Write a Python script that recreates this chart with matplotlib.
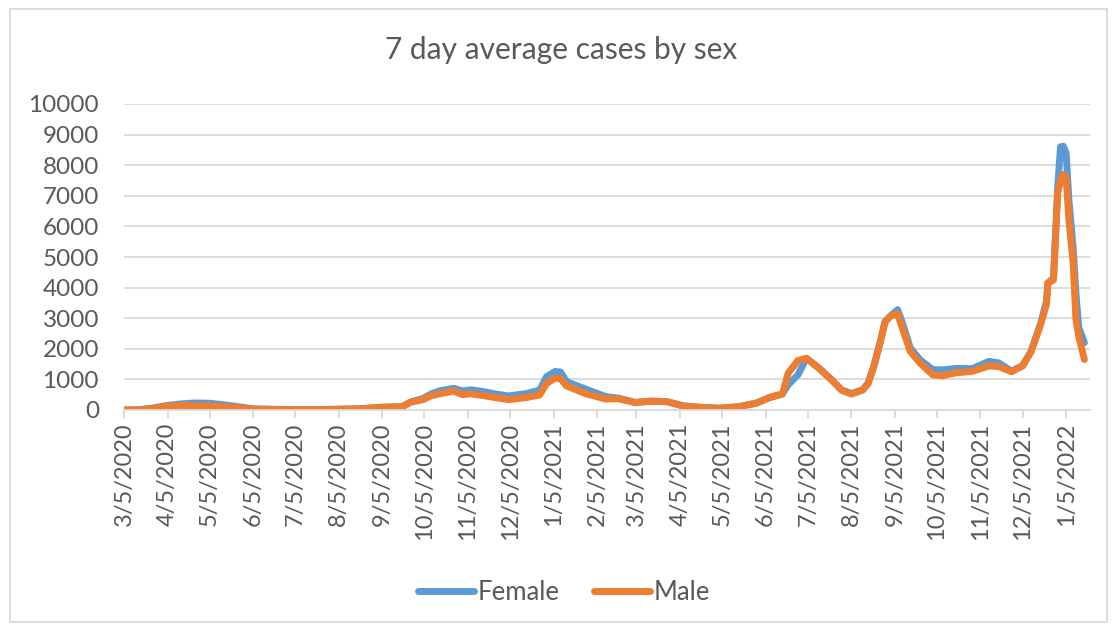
import matplotlib
matplotlib.use("Agg")
import matplotlib.pyplot as plt
import pandas as pd
from matplotlib.patches import Rectangle

# values (7 day average cases)
dates = ["2020-03-05", "2020-03-15", "2020-03-25", "2020-04-05", "2020-04-15",
         "2020-04-25", "2020-05-05", "2020-05-15", "2020-05-25", "2020-06-05",
         "2020-06-20", "2020-07-05", "2020-07-20", "2020-08-05", "2020-08-20",
         "2020-09-05", "2020-09-19", "2020-09-25", "2020-10-04", "2020-10-10",
         "2020-10-16", "2020-10-26", "2020-11-01", "2020-11-07", "2020-11-16",
         "2020-11-25", "2020-12-04", "2020-12-17", "2020-12-26", "2020-12-31",
         "2021-01-06", "2021-01-10", "2021-01-14", "2021-01-28", "2021-02-11",
         "2021-02-20", "2021-03-04", "2021-03-15", "2021-03-27", "2021-04-07",
         "2021-04-19", "2021-05-03", "2021-05-17", "2021-05-29", "2021-06-08",
         "2021-06-17", "2021-06-21", "2021-06-28", "2021-07-04", "2021-07-13",
         "2021-07-22", "2021-07-29", "2021-08-05", "2021-08-13", "2021-08-17",
         "2021-08-21", "2021-08-26", "2021-08-29", "2021-09-02", "2021-09-07",
         "2021-09-10", "2021-09-16", "2021-09-23", "2021-10-02", "2021-10-09",
         "2021-10-19", "2021-10-30", "2021-11-11", "2021-11-18", "2021-11-27",
         "2021-12-05", "2021-12-11", "2021-12-18", "2021-12-22", "2021-12-23",
         "2021-12-27", "2021-12-30", "2022-01-01", "2022-01-03", "2022-01-05",
         "2022-01-07", "2022-01-10", "2022-01-12", "2022-01-14", "2022-01-18"]

female = [0, 5, 60, 150, 200,
          230, 220, 170, 110, 40,
          20, 15, 15, 25, 40,
          90, 110, 260, 380, 530,
          630, 710, 620, 660, 600,
          520, 460, 540, 650, 1090,
          1260, 1240, 930, 680, 440,
          390, 250, 290, 270, 140,
          90, 60, 110, 220, 410,
          530, 820, 1150, 1690, 1370,
          990, 660, 540, 660, 880,
          1430, 2300, 2880, 3080, 3280,
          2900, 2030, 1640, 1320, 1310,
          1360, 1350, 1590, 1540, 1270,
          1450, 1920, 2850, 3550, 4150,
          4300, 7300, 8600, 8620, 8400,
          6850, 5300, 3800, 2700, 2200]

male = [0, 5, 50, 130, 150,
        140, 130, 110, 80, 30,
        20, 15, 15, 25, 40,
        90, 100, 250, 340, 470,
        530, 620, 500, 530, 470,
        400, 340, 410, 490, 870,
        1040, 1020, 790, 530, 360,
        370, 240, 290, 270, 130,
        90, 55, 110, 220, 410,
        520, 1200, 1620, 1690, 1360,
        980, 650, 520, 650, 870,
        1420, 2290, 2880, 3070, 3140,
        2720, 1910, 1530, 1150, 1120,
        1220, 1260, 1440, 1420, 1250,
        1440, 1900, 2820, 3450, 4150,
        4250, 7090, 7500, 7700, 7600,
        6200, 4800, 2950, 2400, 1650]

tick_labels = ["3/5/2020", "4/5/2020", "5/5/2020", "6/5/2020", "7/5/2020",
               "8/5/2020", "9/5/2020", "10/5/2020", "11/5/2020", "12/5/2020",
               "1/5/2021", "2/5/2021", "3/5/2021", "4/5/2021", "5/5/2021",
               "6/5/2021", "7/5/2021", "8/5/2021", "9/5/2021", "10/5/2021",
               "11/5/2021", "12/5/2021", "1/5/2022"]

text_col = "#595959"
grid_col = "#D9D9D9"
plt.rcParams["font.family"] = ["Lato", "DejaVu Sans"]

x = pd.to_datetime(dates)
ticks = pd.to_datetime(tick_labels, format="%m/%d/%Y")

fig = plt.figure(figsize=(11.17, 6.28), dpi=100)
ax = fig.add_axes([124 / 1117, 1 - 410 / 628, (1090 - 124) / 1117, (410 - 104) / 628])

ax.plot(x, female, color="#5B9BD5", lw=5, label="Female",
        solid_joinstyle="round", solid_capstyle="round")
ax.plot(x, male, color="#ED7D31", lw=5, label="Male",
        solid_joinstyle="round", solid_capstyle="round")

ax.set_ylim(0, 10000)
ax.set_yticks(range(0, 10001, 1000))
ax.set_xlim(pd.Timestamp("2020-03-05"), pd.Timestamp("2022-01-22"))
ax.set_xticks(ticks)
ax.set_xticklabels(tick_labels, rotation=90)

ax.grid(axis="y", color=grid_col, lw=1.3)
ax.set_axisbelow(True)
for s in ["left", "right", "top"]:
    ax.spines[s].set_visible(False)
ax.spines["bottom"].set_color(grid_col)
ax.spines["bottom"].set_linewidth(1.3)
ax.tick_params(axis="y", length=0, pad=18, labelsize=17.5, labelcolor=text_col)
ax.tick_params(axis="x", length=6, width=1.3, color=grid_col, pad=3,
               labelsize=17, labelcolor=text_col)

fig.text(561 / 1117, 1 - 50 / 628, "7 day average cases by sex", ha="center",
         va="center", fontsize=21.5, color=text_col)

leg = fig.legend(loc="center", bbox_to_anchor=(564 / 1117, 1 - 592 / 628), ncol=2,
                 frameon=False, fontsize=18.5, handlelength=2.2, handletextpad=0.15,
                 columnspacing=1.3)
for t in leg.get_texts():
    t.set_color(text_col)
for h in leg.get_lines():
    h.set_solid_capstyle("round")

fig.patches.append(Rectangle((10 / 1117, 1 - 622 / 628), 1097 / 1117, 613 / 628,
                             transform=fig.transFigure, fill=False,
                             edgecolor=grid_col, lw=1.3))

fig.savefig("out.png", dpi=100)
